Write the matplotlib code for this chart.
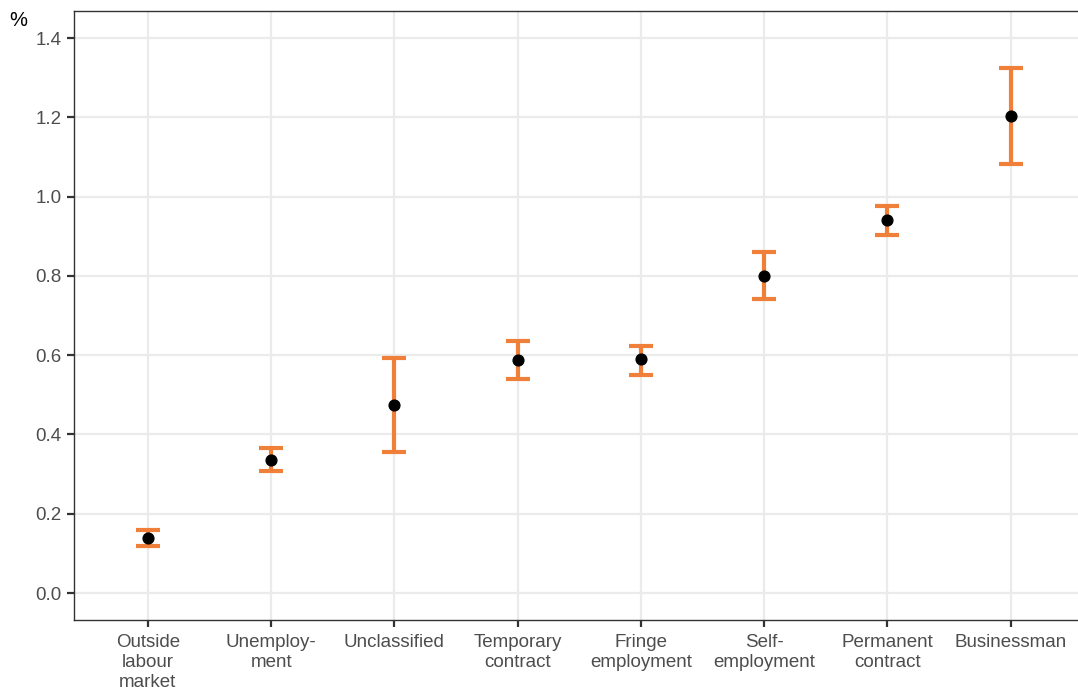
import matplotlib.pyplot as plt
import numpy as np

categories = ['Outside\nlabour\nmarket', 'Unemploy-\nment', 'Unclassified', 'Temporary\ncontract',
              'Fringe\nemployment', 'Self-\nemployment', 'Permanent\ncontract', 'Businessman']
estimate = [0.139, 0.336, 0.474, 0.588, 0.590, 0.800, 0.941, 1.203]
lower = [0.119, 0.308, 0.356, 0.540, 0.550, 0.742, 0.903, 1.082]
upper = [0.159, 0.366, 0.593, 0.636, 0.623, 0.860, 0.976, 1.324]
yticks = [0.0, 0.2, 0.4, 0.6, 0.8, 1.0, 1.2, 1.4]

plt.rcParams['font.family'] = ['Arial', 'Liberation Sans', 'DejaVu Sans']

fig = plt.figure(figsize=(10.78, 6.91), dpi=100)
ax = fig.add_axes([0.0686, 0.1027, 0.934, 0.8813])

x = np.arange(len(categories))
est = np.array(estimate)
err = [est - np.array(lower), np.array(upper) - est]

ax.errorbar(x, est, yerr=err, fmt='none', ecolor='#F07F3A', elinewidth=3.0,
            capsize=8.5, capthick=3.0, zorder=3)
ax.scatter(x, est, s=60, color='black', zorder=4)

ax.set_xlim(-0.6, 7.57)
ax.set_ylim(-0.068, 1.468)
ax.set_yticks(yticks)
ax.set_yticklabels([f'{v:.1f}' for v in yticks])
ax.set_xticks(x)
ax.set_xticklabels(categories, linespacing=1.22)

ax.grid(True, color='#EBEBEB', linewidth=1.6, zorder=0)
ax.set_axisbelow(True)
for s in ax.spines.values():
    s.set_color('#333333')
    s.set_linewidth(1.0)
ax.spines['right'].set_visible(False)

ax.tick_params(axis='both', length=5, width=1.6, color='#333333',
               labelsize=13.5, labelcolor='#4D4D4D')
ax.tick_params(axis='y', pad=4)
ax.tick_params(axis='x', pad=5)

fig.text(0.009, 0.962, '%', fontsize=14.5, color='black')

fig.savefig('out.png', dpi=100)
